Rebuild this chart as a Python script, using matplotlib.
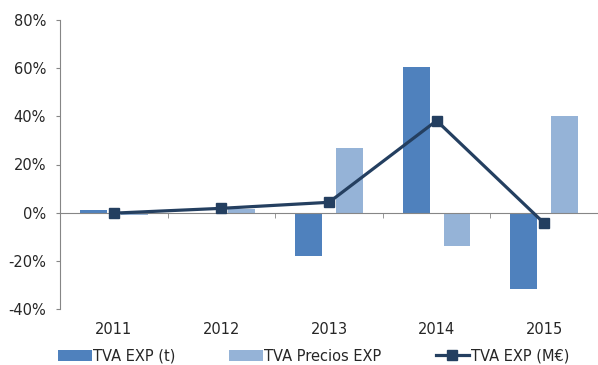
import numpy as np
import matplotlib.pyplot as plt
from matplotlib.ticker import FuncFormatter

years = ['2011', '2012', '2013', '2014', '2015']
tva_exp_t = [1.0, -0.3, -17.8, 60.5, -31.8]
tva_precios = [-0.8, 1.6, 27.0, -14.0, 40.3]
tva_exp_me = [-0.2, 1.8, 4.3, 38.2, -4.4]

dark_blue = '#4f81bd'
light_blue = '#95b3d7'
navy = '#243f60'
axis_gray = '#868686'
text_col = '#262626'

plt.rcParams['font.family'] = ['DejaVu Sans']
plt.rcParams['font.size'] = 10.5

fig = plt.figure(figsize=(5.98, 3.65), dpi=100)
ax = fig.add_axes([60 / 598, 1 - 309 / 365, 538 / 598, 289 / 365])

x = np.arange(len(years))
bar_w = 0.25
offset = 0.19
b1 = ax.bar(x - offset, tva_exp_t, width=bar_w, color=dark_blue, label='TVA EXP (t)', zorder=2)
b2 = ax.bar(x + offset, tva_precios, width=bar_w, color=light_blue, label='TVA Precios EXP', zorder=2)
ln, = ax.plot(x, tva_exp_me, color=navy, linewidth=2.3, marker='s', markersize=7,
              label='TVA EXP (M€)', zorder=4)

ax.set_xlim(-0.5, len(years) - 0.5)
ax.set_ylim(-40, 80)
ax.set_yticks(np.arange(-40, 81, 20))
ax.yaxis.set_major_formatter(FuncFormatter(lambda v, _: f'{v:.0f}%'))

# zero line with category separators
for side in ('top', 'right'):
    ax.spines[side].set_visible(False)
ax.spines['left'].set_color(axis_gray)
ax.spines['bottom'].set_color(axis_gray)
ax.spines['bottom'].set_position(('data', 0))
ax.spines['bottom'].set_zorder(3)
ax.set_xticks(x + 0.5, minor=True)
ax.set_xticks([])
ax.tick_params(axis='x', which='minor', length=3.5, direction='out', color=axis_gray)
ax.tick_params(axis='y', length=3, color=axis_gray, labelcolor=text_col, pad=7)

# category labels sit below the plot area
sec = ax.secondary_xaxis('bottom')
sec.set_xticks(x)
sec.set_xticklabels(years, color=text_col)
sec.tick_params(length=0, pad=9)
sec.spines['bottom'].set_visible(False)

fig.legend([b1, b2, ln], ['TVA EXP (t)', 'TVA Precios EXP', 'TVA EXP (M€)'],
           loc='lower left', bbox_to_anchor=(45 / 598, -0.032), ncol=3, frameon=False,
           handlelength=2.3, handletextpad=0.1, columnspacing=3.7,
           labelcolor=text_col)

fig.savefig('out.png', dpi=100)
